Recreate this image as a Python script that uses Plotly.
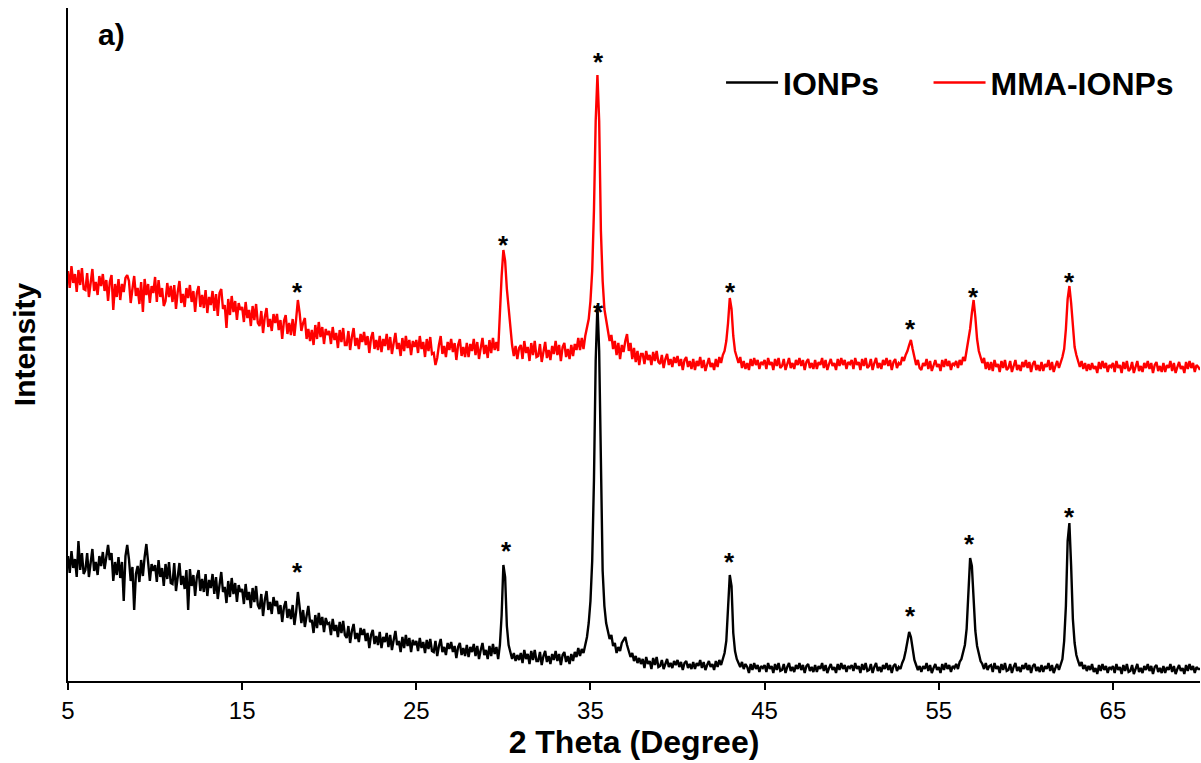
import plotly.graph_objects as go

# ---- data, one row per degree: x.0 ... x.9 ----
two_theta_start = 5.0
two_theta_step = 0.1

ionps = [
    125, 108, 130, 113, 122, 104, 140, 111, 128, 107,   # 5
    111, 128, 104, 121, 132, 110, 119, 106, 125, 115,   # 6
    129, 112, 123, 136, 121, 128, 100, 119, 106, 124,   # 7
    103, 119, 80, 125, 136, 122, 100, 114, 71, 107,     # 8
    115, 99, 121, 105, 124, 137, 119, 100, 117, 110,    # 9
    116, 99, 121, 104, 113, 95, 117, 102, 119, 98,      # 10
    97, 118, 90, 107, 118, 96, 105, 92, 111, 71,        # 11
    112, 95, 106, 85, 104, 111, 90, 102, 89, 107,       # 12
    85, 101, 93, 107, 87, 104, 82, 96, 109, 89,         # 13
    94, 78, 100, 84, 103, 87, 98, 79, 96, 89,           # 14
    92, 77, 97, 81, 89, 73, 93, 79, 95, 76,             # 15
    72, 87, 65, 81, 90, 71, 79, 67, 84, 75,             # 16
    80, 67, 76, 59, 74, 80, 63, 72, 62, 76,             # 17
    56, 69, 89, 74, 58, 71, 54, 65, 75, 59,             # 18
    61, 48, 66, 53, 68, 56, 64, 49, 63, 57,             # 19
    58, 46, 62, 50, 56, 44, 59, 48, 60, 46,             # 20
    43, 55, 38, 50, 57, 42, 48, 39, 53, 46,             # 21
    52, 40, 48, 33, 46, 51, 37, 45, 36, 49,             # 22
    33, 44, 39, 48, 34, 46, 31, 41, 50, 36,             # 23
    40, 29, 44, 33, 46, 35, 43, 29, 41, 36,             # 24
    40, 30, 43, 33, 39, 28, 41, 32, 42, 30,             # 25
    29, 40, 25, 35, 42, 29, 34, 26, 38, 32,             # 26
    39, 29, 35, 23, 34, 38, 26, 33, 25, 36,             # 27
    24, 34, 29, 37, 25, 35, 22, 31, 38, 26,             # 28
    31, 22, 35, 25, 37, 27, 34, 22, 36, 66,             # 29
    116, 104, 55, 36, 29, 22, 28, 20, 26, 21,           # 30
    28, 18, 31, 22, 27, 17, 30, 21, 31, 20,             # 31
    20, 29, 16, 25, 30, 19, 25, 17, 27, 21,             # 32
    30, 20, 27, 16, 26, 29, 19, 25, 17, 27,             # 33
    20, 29, 24, 33, 25, 32, 28, 36, 44, 58,             # 34
    80, 120, 200, 320, 376, 330, 190, 110, 75, 58,      # 35
    50, 42, 46, 35, 38, 28, 34, 30, 38, 41,             # 36
    44, 36, 30, 24, 28, 20, 25, 18, 23, 17,             # 37
    22, 13, 24, 17, 20, 12, 23, 16, 24, 14,             # 38
    15, 21, 12, 18, 22, 14, 18, 13, 20, 16,             # 39
    21, 14, 19, 11, 18, 20, 13, 17, 12, 19,             # 40
    12, 18, 15, 21, 13, 19, 11, 16, 20, 14,             # 41
    17, 11, 20, 14, 21, 16, 22, 28, 40, 68,             # 42
    106, 95, 48, 30, 22, 18, 14, 19, 12, 17,            # 43
    14, 8, 17, 11, 18, 12, 16, 9, 15, 13,               # 44
    16, 9, 18, 12, 15, 8, 17, 11, 18, 10,               # 45
    11, 17, 8, 14, 18, 10, 14, 9, 16, 12,               # 46
    18, 11, 16, 8, 15, 17, 10, 14, 9, 16,               # 47
    9, 15, 12, 18, 10, 16, 8, 13, 17, 11,               # 48
    14, 8, 17, 11, 18, 12, 16, 9, 15, 13,               # 49
    16, 10, 18, 12, 15, 8, 17, 11, 18, 10,              # 50
    11, 17, 8, 14, 18, 10, 14, 9, 16, 12,               # 51
    18, 11, 16, 8, 15, 17, 10, 14, 12, 18,              # 52
    22, 30, 42, 49, 44, 30, 21, 16, 11, 15,             # 53
    9, 15, 12, 18, 10, 16, 8, 13, 17, 11,               # 54
    14, 8, 17, 11, 18, 12, 16, 9, 15, 13,               # 55
    17, 12, 19, 22, 28, 36, 52, 88, 123, 115,           # 56
    80, 50, 35, 27, 20, 17, 12, 18, 11, 15,             # 57
    16, 9, 18, 12, 15, 8, 17, 11, 18, 10,               # 58
    11, 17, 8, 14, 18, 10, 14, 9, 16, 12,               # 59
    18, 11, 16, 8, 15, 17, 10, 14, 9, 16,               # 60
    9, 15, 12, 18, 10, 16, 8, 13, 17, 11,               # 61
    18, 22, 40, 75, 140, 158, 115, 62, 38, 26,          # 62
    20, 15, 19, 12, 16, 10, 15, 11, 17, 9,              # 63
    13, 7, 16, 10, 17, 11, 15, 8, 14, 12,               # 64
    15, 8, 17, 11, 14, 7, 16, 10, 17, 9,                # 65
    10, 16, 7, 13, 17, 9, 13, 8, 15, 11,                # 66
    17, 10, 15, 7, 14, 16, 9, 13, 8, 15,                # 67
    8, 14, 11, 17, 9, 15, 7, 12, 16, 10,                # 68
    13, 7, 16, 10, 17, 11, 15, 8, 14, 12,               # 69
    12,                                                 # 70
]

mma_ionps = [
    410, 393, 415, 398, 407, 389, 411, 396, 413, 392,   # 5
    391, 408, 384, 401, 412, 390, 399, 386, 405, 395,   # 6
    407, 390, 401, 380, 399, 406, 371, 397, 384, 402,   # 7
    381, 397, 389, 403, 406, 400, 378, 392, 405, 385,   # 8
    393, 377, 399, 369, 402, 386, 397, 378, 395, 388,   # 9
    404, 379, 401, 384, 393, 375, 380, 398, 384, 395,   # 10
    379, 396, 372, 389, 400, 378, 387, 374, 393, 383,   # 11
    396, 379, 390, 369, 388, 395, 374, 386, 373, 391,   # 12
    368, 384, 376, 390, 370, 387, 365, 388, 392, 372,   # 13
    376, 353, 382, 366, 385, 369, 380, 361, 378, 371,   # 14
    374, 359, 379, 363, 371, 355, 375, 361, 377, 358,   # 15
    355, 370, 348, 364, 373, 354, 362, 350, 367, 358,   # 16
    367, 351, 361, 342, 360, 366, 347, 358, 346, 362,   # 17
    345, 362, 381, 368, 350, 358, 363, 342, 352, 340,   # 18
    351, 336, 356, 342, 359, 344, 354, 337, 352, 346,   # 19
    350, 337, 354, 341, 348, 333, 351, 339, 353, 336,   # 20
    336, 350, 331, 344, 353, 335, 343, 332, 347, 339,   # 21
    349, 336, 345, 328, 343, 349, 332, 341, 331, 345,   # 22
    329, 342, 335, 347, 331, 344, 327, 338, 348, 332,   # 23
    338, 325, 343, 330, 345, 333, 341, 326, 340, 334,   # 24
    341, 328, 345, 332, 339, 324, 342, 330, 344, 327,   # 25
    328, 316, 323, 336, 345, 327, 335, 324, 339, 331,   # 26
    342, 329, 338, 321, 336, 342, 325, 334, 324, 338,   # 27
    324, 337, 330, 342, 326, 339, 322, 333, 343, 327,   # 28
    336, 323, 341, 328, 343, 331, 339, 330, 372, 405,   # 29
    431, 420, 392, 372, 350, 336, 325, 335, 322, 333,   # 30
    336, 322, 340, 328, 334, 320, 338, 326, 340, 324,   # 31
    325, 337, 319, 331, 339, 323, 331, 321, 335, 327,   # 32
    340, 326, 336, 320, 334, 338, 324, 332, 322, 336,   # 33
    325, 337, 331, 343, 331, 343, 332, 345, 352, 362,   # 34
    380, 410, 470, 560, 606, 560, 450, 400, 372, 360,   # 35
    352, 340, 346, 332, 340, 326, 338, 322, 336, 329,   # 36
    340, 347, 330, 338, 322, 333, 319, 330, 316, 327,   # 37
    327, 317, 330, 321, 326, 316, 329, 320, 330, 319,   # 38
    317, 326, 313, 322, 327, 316, 322, 314, 324, 318,   # 39
    325, 315, 322, 311, 321, 324, 314, 320, 312, 322,   # 40
    311, 320, 315, 324, 313, 321, 310, 317, 323, 314,   # 41
    318, 311, 322, 314, 324, 318, 326, 330, 340, 358,   # 42
    383, 372, 345, 330, 324, 318, 324, 313, 320, 312,   # 43
    318, 311, 322, 315, 323, 316, 321, 312, 319, 317,   # 44
    321, 312, 323, 316, 319, 311, 322, 315, 323, 313,   # 45
    315, 322, 311, 318, 323, 313, 318, 312, 321, 316,   # 46
    323, 315, 321, 311, 319, 322, 313, 318, 312, 321,   # 47
    312, 319, 316, 323, 313, 321, 311, 317, 322, 315,   # 48
    318, 311, 322, 315, 323, 316, 321, 312, 319, 317,   # 49
    321, 312, 323, 316, 319, 311, 322, 315, 323, 313,   # 50
    315, 322, 311, 318, 323, 313, 318, 312, 321, 316,   # 51
    323, 315, 321, 311, 319, 322, 313, 318, 316, 324,   # 52
    320, 326, 330, 336, 341, 332, 322, 316, 321, 313,   # 53
    311, 318, 315, 322, 312, 320, 310, 316, 321, 314,   # 54
    317, 310, 321, 314, 322, 315, 320, 311, 318, 316,   # 55
    320, 313, 321, 316, 324, 320, 330, 338, 352, 368,   # 56
    381, 364, 342, 330, 325, 318, 323, 312, 319, 311,   # 57
    319, 310, 321, 314, 317, 309, 320, 313, 321, 311,   # 58
    313, 320, 309, 316, 321, 311, 316, 310, 319, 314,   # 59
    321, 313, 319, 309, 317, 320, 311, 316, 310, 319,   # 60
    310, 317, 314, 321, 311, 319, 309, 315, 320, 313,   # 61
    318, 324, 332, 352, 382, 395, 378, 350, 334, 326,   # 62
    321, 314, 320, 312, 318, 310, 317, 311, 318, 312,   # 63
    315, 308, 319, 312, 320, 313, 318, 309, 316, 314,   # 64
    318, 309, 320, 313, 316, 308, 319, 312, 320, 310,   # 65
    312, 319, 308, 315, 320, 310, 315, 309, 318, 313,   # 66
    320, 312, 318, 308, 316, 319, 310, 315, 309, 318,   # 67
    309, 316, 313, 320, 310, 318, 308, 314, 319, 312,   # 68
    315, 308, 319, 312, 320, 313, 318, 309, 316, 314,   # 69
    311,                                                # 70
]

two_theta = [round(two_theta_start + two_theta_step * i, 1) for i in range(len(ionps))]

series_names = ["IONPs", "MMA-IONPs"]

# peaks marked with an asterisk (2-theta, degrees)
ionps_peaks = [18.2, 30.2, 35.45, 43.0, 53.35, 56.75, 62.5]
mma_peaks = [18.2, 30.0, 35.45, 43.05, 53.4, 57.0, 62.5]

x_ticks = [5, 15, 25, 35, 45, 55, 65]
x_range = [5, 70]
y_range = [0, 673]

# ---- styles ----
FONT = "Arial, 'Liberation Sans', sans-serif"
ionps_star_gap = [22, 16, -5, 15, 18, 16, 8]   # px between peak top and asterisk
mma_star_gap = [10, 7, 15, 8, 13, 5, 6]
legend_pad = "\u00a0" * 5   # widen first legend entry so the second starts where it does in the original

fig = go.Figure()
fig.add_trace(go.Scatter(x=two_theta, y=ionps, mode="lines",
                         name="<b>" + series_names[0] + "</b>" + legend_pad,
                         line=dict(color="black", width=2.4)))
fig.add_trace(go.Scatter(x=two_theta, y=mma_ionps, mode="lines",
                         name="<b>" + series_names[1] + "</b>",
                         line=dict(color="#ff0000", width=2.4)))


def peak_top(xs, ys, x0, win=0.25):
    return max(y for x, y in zip(xs, ys) if abs(x - x0) <= win)


annotations = []
for peaks, series, gaps in ((ionps_peaks, ionps, ionps_star_gap),
                            (mma_peaks, mma_ionps, mma_star_gap)):
    for p, g in zip(peaks, gaps):
        annotations.append(dict(x=p, y=peak_top(two_theta, series, p), xref="x", yref="y",
                                text="<b>*</b>", showarrow=False, yanchor="middle",
                                yshift=g - 2, font=dict(family=FONT, size=26, color="black")))

annotations.append(dict(x=0.025, y=0.96, xref="paper", yref="paper", text="<b>a)</b>",
                        showarrow=False, xanchor="left", yanchor="middle",
                        font=dict(family=FONT, size=30, color="black")))

fig.update_layout(
    width=1201, height=763,
    margin=dict(l=68, r=1, t=8, b=82, autoexpand=False),
    plot_bgcolor="white", paper_bgcolor="white",
    font=dict(family=FONT, color="black"),
    showlegend=True,
    legend=dict(orientation="h", x=0.5769, y=0.889, xanchor="left", yanchor="middle",
                itemwidth=52,
                font=dict(family=FONT, size=32, color="black"), bgcolor="rgba(0,0,0,0)"),
    annotations=annotations,
)
fig.update_xaxes(range=x_range, tickvals=x_ticks, ticks="outside", ticklen=7, tickwidth=1.5,
                 tickcolor="black", showline=True, linecolor="black", linewidth=1.5,
                 showgrid=False, zeroline=False, automargin=False,
                 tickfont=dict(family=FONT, size=24, color="black"),
                 title=dict(text="<b>2 Theta (Degree)</b>", standoff=5,
                            font=dict(family=FONT, size=32, color="black")))
fig.update_yaxes(range=y_range, showline=True, linecolor="black", linewidth=1.5,
                 showticklabels=False, ticks="", showgrid=False, zeroline=False,
                 automargin=False,
                 title=dict(text="<b>Intensity</b>", standoff=22,
                            font=dict(family=FONT, size=30, color="black")))

fig.write_html("out.html")
